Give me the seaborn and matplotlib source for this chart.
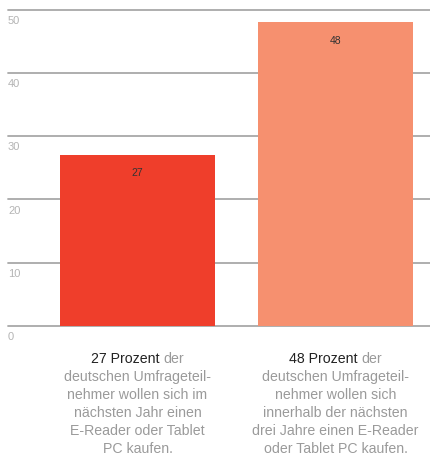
# Balkendiagramm: Kaufabsicht E-Reader / Tablet PC
import matplotlib
matplotlib.use('Agg')
import matplotlib.pyplot as plt
import seaborn as sns
import pandas as pd

categories = ['Nächstes Jahr', 'Nächste drei Jahre']
values = [27, 48]
bar_colors = ['#ef3e2b', '#f6906f']
yticks = [0, 10, 20, 30, 40, 50]

captions = [
    ('27 Prozent', ' der', ['deutschen Umfrageteil-', 'nehmer wollen sich im',
                           'nächsten Jahr einen', 'E-Reader oder Tablet', 'PC kaufen.']),
    ('48 Prozent', ' der', ['deutschen Umfrageteil-', 'nehmer wollen sich',
                           'innerhalb der nächsten', 'drei Jahre einen E-Reader',
                           'oder Tablet PC kaufen.']),
]

def main():
    sns.set_style('white')
    plt.rcParams['font.family'] = ['Liberation Sans', 'DejaVu Sans']

    df = pd.DataFrame({'cat': categories, 'val': values})

    fig = plt.figure(figsize=(4.31, 4.65), dpi=100)
    ax = fig.add_axes([8 / 431, 1 - 326 / 465, 1 - 8 / 431, (326 - 9.5) / 465])

    sns.barplot(data=df, x='cat', y='val', hue='cat', palette=bar_colors,
                width=0.783, saturation=1, legend=False, ax=ax, zorder=3,
                linewidth=0, edgecolor='none')

    ax.set_xlim(-0.654, 1.482)
    ax.set_ylim(0, 50)
    ax.set_yticks(yticks)
    ax.set_xticks([])
    ax.tick_params(left=False, labelleft=False)
    ax.yaxis.grid(True, color='#a8a8a8', linewidth=1.3, zorder=0)
    for gl in ax.get_ygridlines():
        gl.set_clip_on(False)
    ax.set_axisbelow(True)
    for s in ax.spines.values():
        s.set_visible(False)
    ax.set_xlabel('')
    ax.set_ylabel('')

    # tick labels below the grid lines
    for t in yticks:
        ax.text(0, t - 1.0, str(t), transform=ax.get_yaxis_transform(), ha='left', va='top',
                fontsize=8, color='#b4b4b4', clip_on=False)

    # value labels inside bars
    for i, v in enumerate(values):
        ax.text(i, v - 2.9, str(v), ha='center', va='center', fontsize=7.5, color='#333333')

    # captions under the bars
    fig.canvas.draw()
    renderer = fig.canvas.get_renderer()
    line_h = 18 / 465
    y0 = 1 - 358.5 / 465
    for i, (bold, rest, lines) in enumerate(captions):
        xc = ax.transData.transform((i, 0))[0] / fig.bbox.width
        full = fig.text(0, 0, bold + rest, fontsize=10.2)
        w = full.get_window_extent(renderer).width / fig.bbox.width
        full.remove()
        fig.text(xc - w / 2, y0, bold, ha='left', va='center', fontsize=10.2, color='#222222')
        fig.text(xc + w / 2, y0, rest.strip(), ha='right', va='center', fontsize=10.2, color='#9a9a9a')
        for k, line in enumerate(lines):
            fig.text(xc, y0 - (k + 1) * line_h, line, ha='center', va='center',
                     fontsize=10.2, color='#9a9a9a')

    fig.savefig('out.png', dpi=100)

if __name__ == '__main__':
    main()
